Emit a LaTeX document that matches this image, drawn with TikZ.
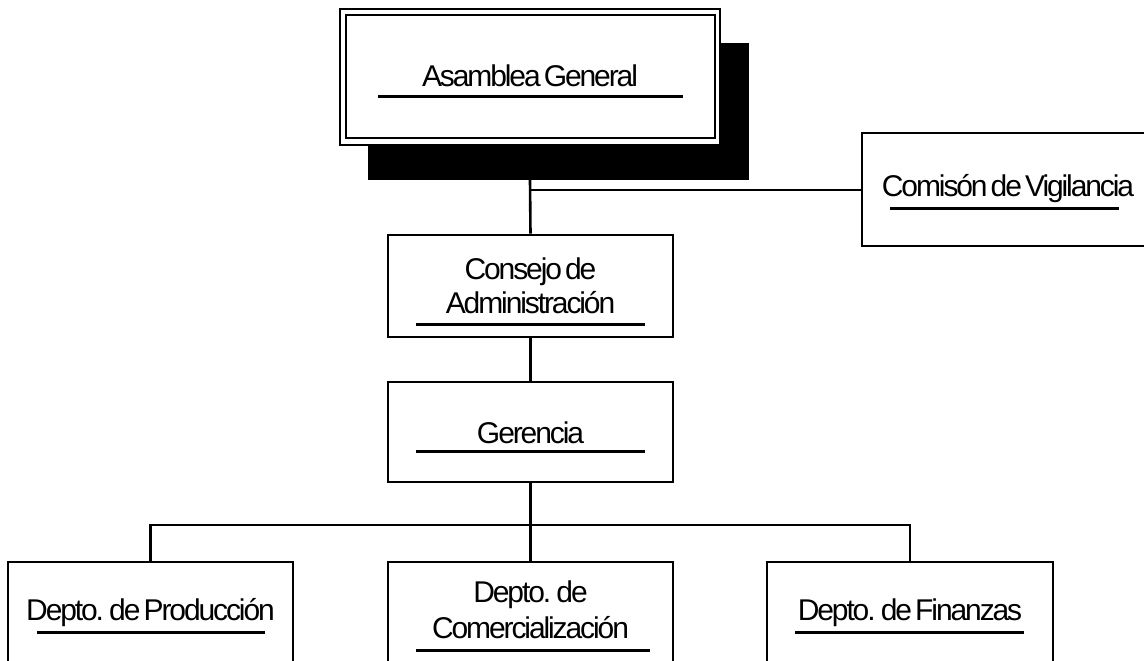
\documentclass[tikz,border=0pt]{standalone}
\usepackage{fontspec}
\setmainfont{Liberation Sans}[LetterSpace=-7,WordSpace=0.5]
\begin{document}
\begin{tikzpicture}[x=1pt,y=-1pt,
  box/.style={draw=black,line width=2.6pt,fill=white,rectangle,inner sep=0pt},
  lbl/.style={anchor=base,inner sep=0pt,font=\fontsize{30}{34}\selectfont},
  uline/.style={line width=3pt},
  conn/.style={line width=2.6pt}]
\useasboundingbox (0,0) rectangle (1144,661);
\clip (0,0) rectangle (1144,661);
% Asamblea General
\node[fill=black,rectangle,inner sep=0pt,minimum width=381pt,minimum height=137pt] (shadow) at (558.5,111.5) {};
\node[box,minimum width=380pt,minimum height=136pt] (asm) at (530,77) {};
\node[draw=black,line width=2.4pt,rectangle,inner sep=0pt,minimum width=369pt,minimum height=123pt] (asmin) at (530.5,76.5) {};
\node[lbl] (tasm) at (530,87) {Asamblea General};
\draw[uline] (378,97) -- (683,97);
% Comision
\node[box,minimum width=298pt,minimum height=113pt] (com) at (1011,189.5) {};
\node[lbl] (tcom) at (1008,196) {Comisón de Vigilancia};
\draw[uline] (890,208) -- (1119,208);
% Consejo
\node[box,minimum width=285pt,minimum height=102pt] (con) at (530.5,286) {};
\node[lbl] (tcon1) at (530.5,279) {Consejo de};
\node[lbl] (tcon2) at (530.5,313) {Administración};
\draw[uline] (416,324) -- (645,324);
% Gerencia
\node[box,minimum width=285pt,minimum height=100pt] (ger) at (530.5,432) {};
\node[lbl] (tger) at (530.5,443) {Gerencia};
\draw[uline] (416,451) -- (645,451);
% Departments
\node[box,minimum width=285pt,minimum height=138pt] (prod) at (150.5,631) {};
\node[lbl] (tprod) at (150.5,620) {Depto. de Producción};
\draw[uline] (37,632) -- (265,632);
\node[box,minimum width=285pt,minimum height=138pt] (come) at (530.5,631) {};
\node[lbl] (tcome1) at (530.5,602) {Depto. de};
\node[lbl] (tcome2) at (530.5,638) {Comercialización};
\draw[uline] (416,650) -- (650,650);
\node[box,minimum width=286pt,minimum height=138pt] (fin) at (910,631) {};
\node[lbl] (tfin) at (910,620) {Depto. de Finanzas};
\draw[uline] (795,632) -- (1024,632);
% Connectors
\coordinate (j1) at (530.5,190);
\coordinate (bus) at (530.5,525);
\draw[conn] (shadow.south -| asm.south) -- (con.north);
\draw[conn] (j1) -- (j1 -| com.west);
\draw[conn] (con.south) -- (ger.north);
\draw[conn] (ger.south) -- (come.north);
\draw[conn] (prod.north) |- (bus) -| (fin.north);
\end{tikzpicture}
\end{document}
